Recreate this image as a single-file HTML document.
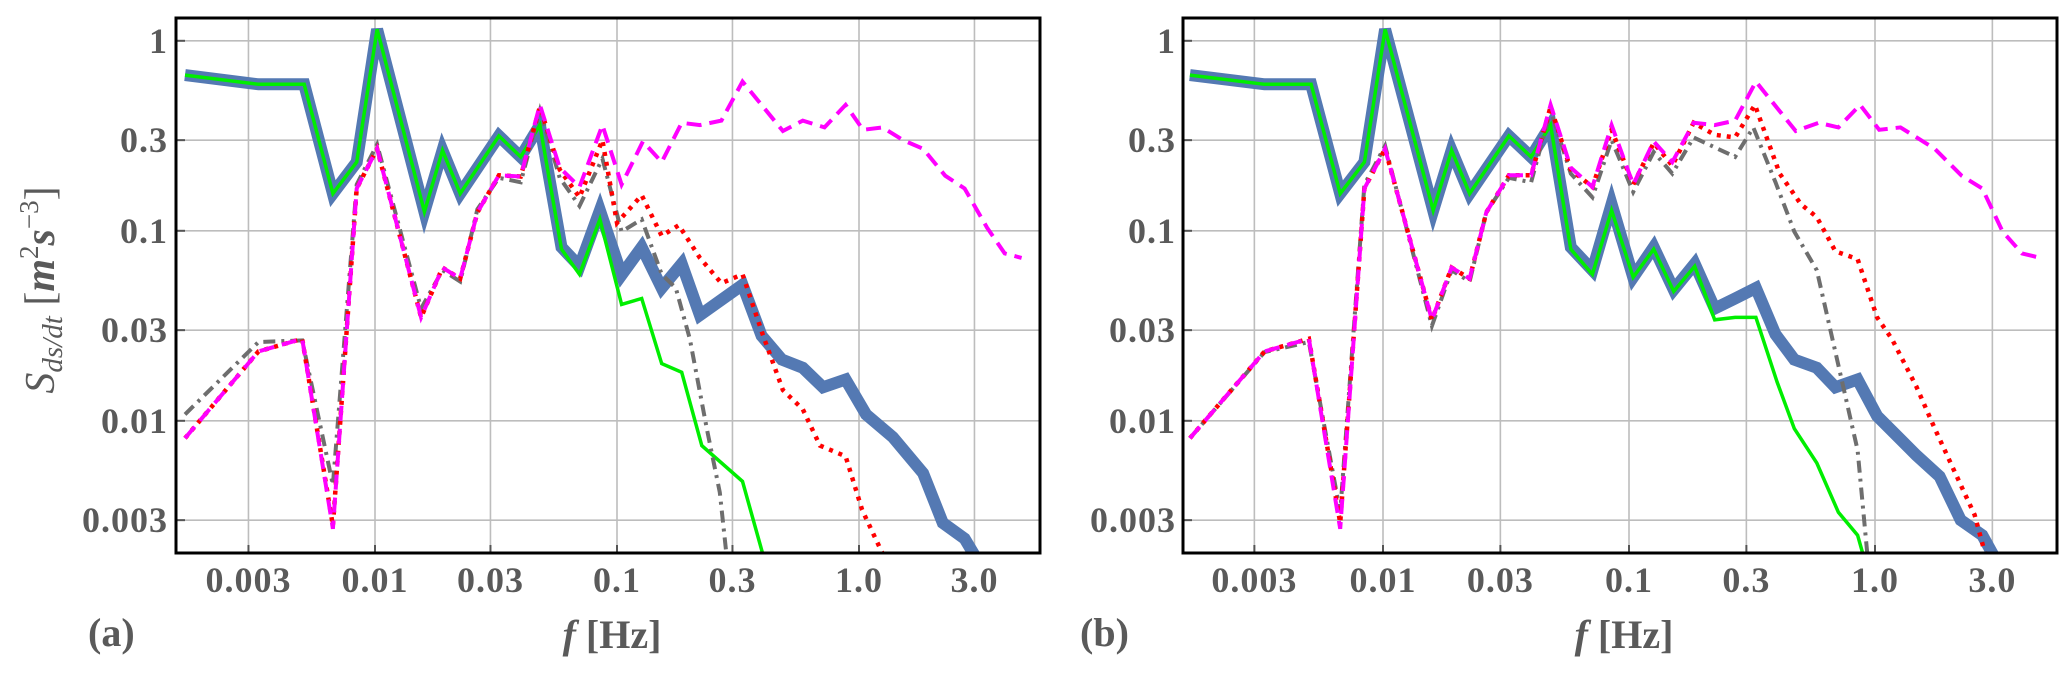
<!DOCTYPE html>
<html><head><meta charset="utf-8"><style>
html,body{margin:0;padding:0;background:#fff;}
svg{display:block;font-family:"Liberation Serif","Times New Roman",serif;}
</style></head><body>
<svg id="chart" width="2067" height="673" viewBox="0 0 2067 673" xmlns="http://www.w3.org/2000/svg"></svg>
<script>
// ---------- data ----------
const xTickVals = [0.003, 0.01, 0.03, 0.1, 0.3, 1, 3];
const xTickLabels = ["0.003", "0.01", "0.03", "0.1", "0.3", "1.0", "3.0"];
const yTickVals = [1, 0.3, 0.1, 0.03, 0.01, 0.003];
const yTickLabels = ["1", "0.3", "0.1", "0.03", "0.01", "0.003"];

// panel (a)
const blueAF = [0.00164,0.0033,0.0051,0.0067,0.0084,0.0102,0.016,0.019,0.0225,0.0325,0.040,0.048,0.059,0.070,0.085,0.1045,0.1265,0.153,0.185,0.22,0.33,0.396,0.48,0.586,0.71,0.88,1.07,1.38,1.84,2.22,2.73,3.3];
const blueAV = [0.66,0.59,0.59,0.157,0.23,1.15,0.126,0.265,0.157,0.316,0.245,0.36,0.082,0.065,0.128,0.0586,0.082,0.050,0.067,0.036,0.052,0.028,0.021,0.019,0.015,0.0165,0.0108,0.0082,0.0053,0.0029,0.0024,0.0016];
const greenAF = [0.00164,0.0033,0.0051,0.0067,0.0084,0.0102,0.016,0.019,0.0225,0.0325,0.040,0.048,0.059,0.070,0.085,0.1045,0.1265,0.153,0.185,0.224,0.33,0.42];
const greenAV = [0.66,0.59,0.59,0.157,0.23,1.15,0.126,0.265,0.157,0.316,0.245,0.36,0.08,0.059,0.115,0.041,0.044,0.020,0.018,0.0074,0.0048,0.0016];
const magAF = [0.00164,0.0033,0.0050,0.0067,0.0084,0.0102,0.0155,0.019,0.0225,0.0265,0.0325,0.040,0.048,0.058,0.070,0.087,0.1045,0.128,0.153,0.185,0.22,0.27,0.33,0.485,0.586,0.72,0.88,1.04,1.25,1.52,1.84,2.27,2.73,3.38,4.0,4.7];
const magAV = [0.0081,0.0232,0.027,0.0027,0.167,0.27,0.035,0.064,0.056,0.125,0.196,0.193,0.46,0.215,0.17,0.36,0.175,0.295,0.23,0.37,0.36,0.38,0.61,0.335,0.38,0.35,0.46,0.34,0.35,0.30,0.27,0.195,0.167,0.104,0.076,0.072];
const redAF = [0.00164,0.0033,0.0050,0.0067,0.0084,0.0102,0.0155,0.019,0.0225,0.0265,0.0325,0.040,0.048,0.058,0.070,0.087,0.1,0.1265,0.153,0.18,0.22,0.27,0.33,0.40,0.485,0.586,0.69,0.88,1.03,1.3];
const redAV = [0.0081,0.0232,0.027,0.0028,0.167,0.27,0.035,0.064,0.056,0.125,0.196,0.193,0.45,0.21,0.15,0.30,0.11,0.154,0.094,0.107,0.072,0.053,0.059,0.0285,0.0145,0.0115,0.0074,0.0065,0.0034,0.0018];
const grayAF = [0.00164,0.0033,0.0050,0.0067,0.0084,0.0102,0.0155,0.019,0.0225,0.0265,0.0325,0.040,0.048,0.058,0.070,0.087,0.1045,0.1265,0.153,0.175,0.20,0.235,0.266,0.29];
const grayAV = [0.0108,0.026,0.0265,0.0046,0.175,0.285,0.039,0.062,0.054,0.13,0.19,0.18,0.43,0.19,0.135,0.24,0.099,0.115,0.059,0.050,0.027,0.0091,0.0042,0.0015];

// panel (b)
const blueBF = [0.00164,0.0033,0.0051,0.0067,0.0084,0.0102,0.016,0.019,0.0225,0.0325,0.040,0.048,0.058,0.071,0.085,0.104,0.126,0.152,0.185,0.223,0.27,0.328,0.394,0.47,0.58,0.69,0.85,1.02,1.47,1.83,2.23,2.73,3.3];
const blueBV = [0.66,0.59,0.59,0.157,0.23,1.15,0.128,0.265,0.157,0.316,0.245,0.36,0.082,0.062,0.138,0.057,0.082,0.049,0.067,0.039,0.044,0.050,0.0285,0.021,0.019,0.015,0.0165,0.0106,0.0066,0.0051,0.003,0.0025,0.0016];
const greenBF = [0.00164,0.0033,0.0051,0.0067,0.0084,0.0102,0.016,0.019,0.0225,0.0325,0.040,0.048,0.058,0.071,0.085,0.104,0.126,0.152,0.185,0.223,0.27,0.328,0.40,0.47,0.58,0.71,0.85,0.95];
const greenBV = [0.66,0.59,0.59,0.157,0.23,1.15,0.128,0.265,0.157,0.316,0.245,0.36,0.08,0.059,0.128,0.057,0.08,0.048,0.065,0.034,0.035,0.035,0.016,0.0091,0.006,0.0033,0.0025,0.0015];
const magBF = [0.00164,0.0033,0.0050,0.0067,0.0084,0.0102,0.0158,0.019,0.0225,0.0263,0.0325,0.040,0.048,0.058,0.071,0.085,0.104,0.126,0.15,0.183,0.223,0.27,0.328,0.476,0.59,0.71,0.87,1.04,1.27,1.75,2.25,2.73,3.3,3.96,4.7];
const magBV = [0.0081,0.0232,0.027,0.0027,0.167,0.27,0.034,0.064,0.056,0.125,0.196,0.196,0.46,0.215,0.17,0.36,0.175,0.295,0.23,0.37,0.36,0.38,0.61,0.335,0.37,0.35,0.46,0.34,0.35,0.27,0.195,0.167,0.099,0.076,0.072];
const redBF = [0.00164,0.0033,0.0050,0.0067,0.0084,0.0102,0.0158,0.019,0.0225,0.0263,0.0325,0.040,0.048,0.058,0.071,0.085,0.104,0.126,0.15,0.183,0.223,0.27,0.325,0.41,0.50,0.58,0.69,0.85,1.02,1.17,1.47,1.75,2.23,2.54,2.9];
const redBV = [0.0081,0.0232,0.027,0.0029,0.167,0.27,0.034,0.064,0.056,0.125,0.196,0.196,0.45,0.21,0.17,0.34,0.175,0.29,0.22,0.37,0.32,0.31,0.46,0.20,0.138,0.118,0.078,0.071,0.035,0.027,0.0152,0.0091,0.0046,0.0032,0.0017];
const grayBF = [0.00164,0.0033,0.0050,0.0067,0.0084,0.0102,0.0158,0.019,0.0225,0.0263,0.0325,0.040,0.048,0.058,0.071,0.085,0.104,0.126,0.15,0.183,0.27,0.32,0.394,0.47,0.58,0.69,0.85,0.95];
const grayBV = [0.0081,0.023,0.026,0.0033,0.175,0.28,0.0316,0.062,0.054,0.125,0.19,0.18,0.43,0.20,0.15,0.30,0.16,0.26,0.20,0.31,0.245,0.35,0.18,0.099,0.062,0.023,0.007,0.0015];

// ---------- drawing ----------
const NS = "http://www.w3.org/2000/svg";
const svg = document.getElementById("chart");
function mk(tag, attrs, parent) {
  const e = document.createElementNS(NS, tag);
  for (const k in attrs) e.setAttribute(k, attrs[k]);
  (parent || svg).appendChild(e);
  return e;
}
const TOP = 18, BOT = 553;
const Y0 = 230.8, YDEC = 190;
function yScale(v) { return Y0 - YDEC * Math.log10(v / 0.1); }

function drawPanel(id, L, R, X01, XDEC, series, letter, letterX, ylabX) {
  const xScale = f => X01 + XDEC * Math.log10(f / 0.1);
  const g = mk("g", {});
  
  
  const clip = mk("clipPath", {id: "clip-" + id}, g);
  mk("rect", {x: L, y: TOP, width: R - L, height: BOT - TOP}, clip);
  xTickVals.forEach((t, i) => {
    const x = xScale(t);
    const gl = mk("line", {x1: x, x2: x, y1: TOP, y2: BOT, stroke: "#bdbdbd", "stroke-width": 1.6}, g);
    
    
    mk("line", {x1: x, x2: x, y1: BOT, y2: BOT - 8, stroke: "#555", "stroke-width": 2}, g);
    const tx = mk("text", {x: x, y: 592, "text-anchor": "middle", "font-size": 36, "font-weight": "bold", fill: "#5a5a5a", "letter-spacing": 1}, g);
    tx.textContent = xTickLabels[i];
    
    
  });
  yTickVals.forEach((t, i) => {
    const y = yScale(t);
    const gl = mk("line", {x1: L, x2: R, y1: y, y2: y, stroke: "#bdbdbd", "stroke-width": 1.6}, g);
    
    
    mk("line", {x1: L, x2: L + 9, y1: y, y2: y, stroke: "#555", "stroke-width": 2}, g);
    const tx = mk("text", {x: ylabX, y: y + 12, "text-anchor": "end", "font-size": 36, "font-weight": "bold", fill: "#5a5a5a", "letter-spacing": 1}, g);
    tx.textContent = yTickLabels[i];
    
    
  });
  const sg = mk("g", {"clip-path": "url(#clip-" + id + ")"}, g);
  series.forEach(s => {
    const pts = s.f.map((f, i) => xScale(f).toFixed(1) + "," + yScale(s.v[i]).toFixed(1)).join(" ");
    const attrs = {points: pts, fill: "none", stroke: s.color, "stroke-width": s.w, "stroke-linejoin": "miter", "stroke-linecap": "butt"};
    if (s.dash) attrs["stroke-dasharray"] = s.dash;
    const pl = mk("polyline", attrs, sg);
    
    
  });
  const fr = mk("rect", {x: L, y: TOP, width: R - L, height: BOT - TOP, fill: "none", stroke: "#000", "stroke-width": 3}, g);
  
  
  const lt = mk("text", {x: letterX, y: 646, "font-size": 40, "font-weight": "bold", fill: "#5a5a5a"}, g);
  lt.textContent = "(" + letter + ")";
  
  
  const xl = mk("text", {x: (L + R) / 2 + 4, y: 648, "text-anchor": "middle", "font-size": 40, fill: "#5a5a5a"}, g);
  xl.innerHTML = '<tspan font-style="italic" font-weight="bold">f</tspan><tspan font-weight="bold"> [Hz]</tspan>';
  
  
}

function seriesSet(bf, bv, gf, gv, yf, yv, rf, rv, mf, mv) {
  return [
    {name: "blue-thick-series", f: bf, v: bv, color: "#5479b3", w: 12},
    {name: "green-series", f: gf, v: gv, color: "#00ee00", w: 3.5},
    {name: "gray-dashdot-series", f: yf, v: yv, color: "#6e6e6e", w: 4, dash: "12,6,3,6"},
    {name: "red-dotted-series", f: rf, v: rv, color: "#ff0000", w: 4.5, dash: "4,6"},
    {name: "magenta-dashed-series", f: mf, v: mv, color: "#ff00ff", w: 4, dash: "15,8"}
  ];
}

drawPanel("a", 176, 1040, 617, 242, seriesSet(blueAF, blueAV, greenAF, greenAV, grayAF, grayAV, redAF, redAV, magAF, magAV), "a", 88, 168);
drawPanel("b", 1183, 2057, 1629, 246, seriesSet(blueBF, blueBV, greenBF, greenBV, grayBF, grayBV, redBF, redBV, magBF, magBV), "b", 1080, 1176);

const yt = mk("text", {transform: "translate(54,290) rotate(-90)", "text-anchor": "middle", "font-size": 42, fill: "#5a5a5a"});
yt.innerHTML = '<tspan font-style="italic">S</tspan><tspan font-style="italic" font-size="29" dy="8">ds/dt</tspan><tspan dy="-8"> [</tspan><tspan font-style="italic" font-weight="bold">m</tspan><tspan font-size="27" dy="-16">2</tspan><tspan font-style="italic" font-weight="bold" dy="16">s</tspan><tspan font-size="27" dy="-16">−3</tspan><tspan dy="16">]</tspan>';


</script>
</body></html>
